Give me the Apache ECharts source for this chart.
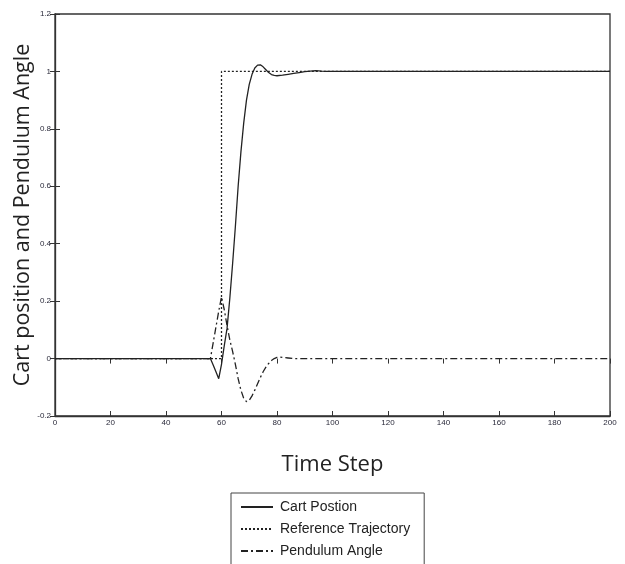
<!DOCTYPE html>
<html>
<head>
<meta charset="utf-8">
<script src="https://cdn.jsdelivr.net/npm/echarts@6/dist/echarts.min.js"></script>
<style>html,body{margin:0;padding:0;background:#fff;}#c{width:625px;height:564px;}</style>
</head>
<body>
<div id="c"></div>
<script>
var seriesNames = ['Cart Postion', 'Reference Trajectory', 'Pendulum Angle'];
var xTicks = [0, 20, 40, 60, 80, 100, 120, 140, 160, 180, 200];
var yTicks = [-0.2, 0, 0.2, 0.4, 0.6, 0.8, 1, 1.2];

var cartSteps = [0, 56, 57, 58, 59, 60, 61, 62, 63, 64, 65, 66, 67, 68, 69, 70, 71, 72, 73, 74, 75, 76, 77, 78, 79, 80, 82, 84, 86, 88, 90, 92, 94, 96, 98, 200];
var cartValues = [0, 0, -0.022, -0.046, -0.07, -0.02, 0.045, 0.105, 0.21, 0.33, 0.46, 0.6, 0.72, 0.82, 0.9, 0.955, 0.99, 1.012, 1.022, 1.023, 1.016, 1.006, 0.996, 0.989, 0.986, 0.985, 0.987, 0.99, 0.993, 0.996, 0.999, 1.001, 1.003, 1.001, 1.0, 1.0];

var refSteps = [0, 60, 60, 200];
var refValues = [0, 0, 1, 1];

var pendSteps = [0, 56, 57, 58, 59, 60, 61, 62, 63, 64, 65, 66, 67, 68, 69, 70, 71, 72, 73, 74, 75, 76, 77, 78, 79, 80, 81, 82, 84, 86, 200];
var pendValues = [0, 0, 0.055, 0.11, 0.165, 0.215, 0.17, 0.115, 0.065, 0.025, -0.02, -0.07, -0.11, -0.138, -0.15, -0.145, -0.13, -0.11, -0.088, -0.066, -0.046, -0.03, -0.017, -0.007, 0, 0.004, 0.005, 0.004, 0.002, 0, 0];

function pairs(xs, ys) { return xs.map(function (x, i) { return [x, ys[i]]; }); }

var chart = echarts.init(document.getElementById('c'), null, { renderer: 'canvas' });
var tickFont = { fontFamily: 'Liberation Sans', fontSize: 8, color: '#2a2a3a' };
var xMin = xTicks[0], xMax = xTicks[xTicks.length - 1], xInt = xTicks[1] - xTicks[0];
var yMin = yTicks[0], yMax = yTicks[yTicks.length - 1], yInt = 0.2;
var tickLine = { color: '#333', width: 1 };

chart.setOption({
  animation: false,
  backgroundColor: '#fff',
  grid: { left: 55, right: 15, top: 14, bottom: 148, show: true, borderColor: '#333', borderWidth: 1.3, containLabel: false, outerBoundsMode: 'none' },
  legend: {
    orient: 'vertical', left: 231, top: 493, height: 200,
    itemWidth: 32, itemHeight: 14, itemGap: 8,
    padding: [7, 14, 20, 9],
    borderColor: '#444', borderWidth: 1, backgroundColor: '#fff', borderRadius: 0,
    itemStyle: { color: 'rgba(0,0,0,0)', borderColor: 'rgba(0,0,0,0)', borderWidth: 0 },
    textStyle: { fontFamily: 'Liberation Sans', fontSize: 14, color: '#222', padding: [0, 0, 0, 2] },
    data: seriesNames
  },
  xAxis: [{
    type: 'value', min: xMin, max: xMax, interval: xInt,
    name: 'Time Step', nameLocation: 'middle', nameGap: 38, nameMoveOverlap: false,
    nameTextStyle: { fontFamily: 'Open Sans', fontSize: 22, color: '#222' },
    axisLine: { show: true, onZero: false, lineStyle: { color: '#333', width: 1.3 } },
    axisTick: { show: true, inside: true, length: 5, lineStyle: tickLine },
    axisLabel: Object.assign({ margin: 3 }, tickFont),
    splitLine: { show: false }
  }, {
    type: 'value', position: 'top', min: xMin, max: xMax, interval: xInt,
    axisLine: { show: false },
    axisTick: { show: true, inside: true, length: 5, lineStyle: tickLine },
    axisLabel: { show: false }, splitLine: { show: false }
  }],
  yAxis: [{
    type: 'value', position: 'left', min: yMin, max: yMax, interval: yInt,
    name: 'Cart position and Pendulum Angle', nameLocation: 'middle', nameGap: 21, nameMoveOverlap: false,
    nameTextStyle: { fontFamily: 'Open Sans', fontSize: 21.5, color: '#222' },
    axisLine: { show: true, onZero: false, lineStyle: { color: '#333', width: 1.3 } },
    axisTick: { show: true, inside: true, length: 5, lineStyle: tickLine },
    axisLabel: Object.assign({ margin: 4, formatter: function (v) { return String(Math.round(v * 10) / 10); } }, tickFont),
    splitLine: { show: false }
  }, {
    type: 'value', position: 'right', min: yMin, max: yMax, interval: yInt,
    axisLine: { show: false },
    axisTick: { show: true, inside: true, length: 5, lineStyle: tickLine },
    axisLabel: { show: false }, splitLine: { show: false }
  }],
  series: [{
    name: seriesNames[0], type: 'line', data: pairs(cartSteps, cartValues),
    symbol: 'none', lineStyle: { color: '#222', width: 1.3, type: 'solid' }, itemStyle: { color: '#222' }, z: 3
  }, {
    name: seriesNames[1], type: 'line', data: pairs(refSteps, refValues),
    symbol: 'none', lineStyle: { color: '#222', width: 1.3, type: [2, 2] }, itemStyle: { color: '#222' }, z: 2
  }, {
    name: seriesNames[2], type: 'line', data: pairs(pendSteps, pendValues),
    symbol: 'none', lineStyle: { color: '#222', width: 1.3, type: [7, 3, 2, 3] }, itemStyle: { color: '#222' }, z: 2
  }]
});
</script>
</body>
</html>
